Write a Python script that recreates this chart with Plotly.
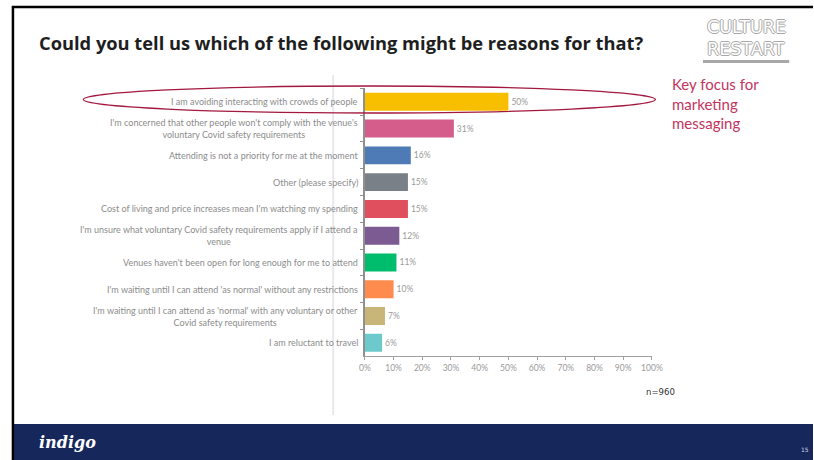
import plotly.graph_objects as go

W, H = 814, 460
FIG_W = 824  # layout width; the page is photographed slightly narrower

# Survey responses (share of respondents, %)
reasons = [
    "I am avoiding interacting with crowds of people",
    "I'm concerned that other people won't comply with the venue's<br>voluntary Covid safety requirements",
    "Attending is not a priority for me at the moment",
    "Other (please specify)",
    "Cost of living and price increases mean I'm watching my spending",
    "I'm unsure what voluntary Covid safety requirements apply if I attend a<br>venue",
    "Venues haven't been open for long enough for me to attend",
    "I'm waiting until I can attend 'as normal' without any restrictions",
    "I'm waiting until I can attend as 'normal' with any voluntary or other<br>Covid safety requirements",
    "I am reluctant to travel",
]
shares = [50, 31, 16, 15, 15, 12, 11, 10, 7, 6]
bar_colors = ["#F8BE00", "#D45D8C", "#4E7AB5", "#7A8087", "#E04F5D",
              "#7C5B92", "#00BD6E", "#FF8B4F", "#C7B678", "#6CC9CC"]
x_ticks = list(range(0, 101, 10))
x_tick_labels = [f"{v}%" for v in x_ticks]

title_text = "Could you tell us which of the following might be reasons for that?"
callout_text = "Key focus for<br>marketing<br>messaging"
sample_text = "n=960"


def px(x):
    return x / W


def py(y):
    return 1 - y / H


cats = [f"c{i}" for i in range(len(reasons))]

fig = go.Figure()
fig.add_trace(go.Bar(
    x=shares, y=cats, orientation="h",
    marker=dict(color=bar_colors, line=dict(width=0)),
    text=[f"{v}%" for v in shares], textposition="outside",
    textfont=dict(family="Lato", size=8.5, color="#9a9a9a"),
    cliponaxis=False, hoverinfo="skip",
))

annotations = []
for c, lab in zip(cats, reasons):
    annotations.append(dict(
        x=px(357), xref="paper", y=c, yref="y", text=lab, showarrow=False,
        xanchor="right", yanchor="middle", align="center",
        font=dict(family="Lato", size=9, color="#8c8c8c"),
    ))

# outlined logo lettering
logo_font = dict(family="DejaVu Sans", size=17.5, color="#ffffff",
                 shadow="1px 0 #a8a8a8, -1px 0 #a8a8a8, 0 1px #a8a8a8, 0 -1px #a8a8a8")

annotations += [
    dict(x=px(31), y=py(42), xref="paper", yref="paper", text=f"<b>{title_text}</b>",
         showarrow=False, xanchor="left", yanchor="middle",
         font=dict(family="Open Sans", size=18.3, color="#1e1e1e")),
    dict(x=px(746.5), y=py(38), xref="paper", yref="paper", text="CULTURE",
         showarrow=False, xanchor="center", yanchor="bottom", borderpad=0,
         font=logo_font),
    dict(x=px(746.5), y=py(38), xref="paper", yref="paper", text="RESTART",
         showarrow=False, xanchor="center", yanchor="top", borderpad=0,
         font=logo_font),
    dict(x=px(670), y=py(103), xref="paper", yref="paper", text=callout_text,
         showarrow=False, xanchor="left", yanchor="middle", align="left",
         font=dict(family="Lato", size=15, color="#C2345E")),
    dict(x=px(660), y=py(391), xref="paper", yref="paper", text=sample_text,
         showarrow=False, xanchor="center", yanchor="middle",
         font=dict(family="DejaVu Sans Condensed", size=9.5, color="#333333")),
    dict(x=px(31), y=py(442), xref="paper", yref="paper", text="<b><i>indigo</i></b>",
         showarrow=False, xanchor="left", yanchor="middle",
         font=dict(family="DejaVu Serif", size=16, color="#ffffff")),
    dict(x=px(812), y=py(449), xref="paper", yref="paper", text="15",
         showarrow=False, xanchor="right", yanchor="middle",
         font=dict(family="DejaVu Sans", size=6, color="#d0d4e0")),
]

shapes = [
    # vertical divider behind the labels
    dict(type="line", xref="paper", yref="paper", x0=px(330), x1=px(330),
         y0=py(75), y1=py(415), line=dict(color="#e8e8ee", width=2), layer="below"),
    # logo underline
    dict(type="line", xref="paper", yref="paper", x0=px(703), x1=px(790),
         y0=py(61.5), y1=py(61.5), line=dict(color="#a8a8a8", width=3)),
    # footer band
    dict(type="rect", xref="paper", yref="paper", x0=px(7), x1=1,
         y0=0, y1=py(424), fillcolor="#16275C", line=dict(width=0)),
    # slide frame
    dict(type="line", xref="paper", yref="paper", x0=px(6), x1=1,
         y0=py(7), y1=py(7), line=dict(color="#000000", width=2.5)),
    dict(type="line", xref="paper", yref="paper", x0=px(7), x1=px(7),
         y0=py(6), y1=0, line=dict(color="#000000", width=2.5)),
    # highlight ellipse around the top reason
    dict(type="circle", xref="paper", yref="paper", x0=px(78), x1=px(655),
         y0=py(113), y1=py(86), line=dict(color="#A3183F", width=1.3)),
]

fig.update_layout(
    width=FIG_W, height=H, margin=dict(l=0, r=0, t=0, b=0),
    paper_bgcolor="#ffffff", plot_bgcolor="#ffffff",
    showlegend=False, bargap=0.33,
    annotations=annotations, shapes=shapes,
    xaxis=dict(domain=[px(362), px(651.5)], range=[0, 100],
               tickvals=x_ticks, ticktext=x_tick_labels, showgrid=False, zeroline=False,
               showline=True, linecolor="#a0a0a0", linewidth=1.2,
               ticks="outside", ticklen=3, tickcolor="#a0a0a0",
               tickfont=dict(family="Lato", size=8.5, color="#9a9a9a")),
    yaxis=dict(domain=[py(356.2), py(88.4)], categoryorder="array",
               categoryarray=cats, autorange="reversed",
               showticklabels=False, showgrid=False, zeroline=False,
               showline=True, linecolor="#909090", linewidth=1.5,
               ticks="outside", tickson="boundaries", ticklen=3, tickcolor="#909090"),
)

fig.write_html("out.html", config={"responsive": False})
